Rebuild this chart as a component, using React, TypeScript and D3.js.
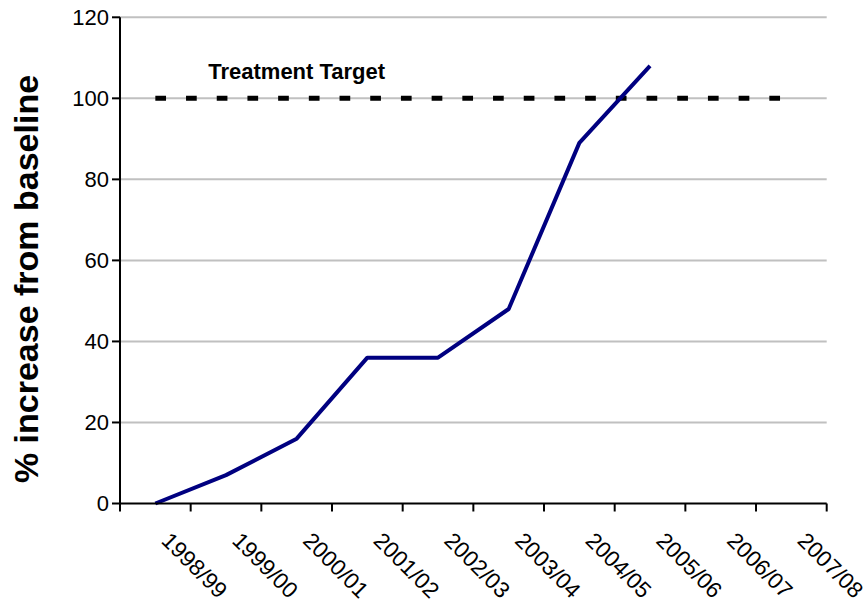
import React from "react";
import * as d3 from "d3";

const categories = ["1998/99","1999/00","2000/01","2001/02","2002/03","2003/04","2004/05","2005/06","2006/07","2007/08"];
const seriesValues = [0, 7, 16, 36, 36, 48, 89, 108];
const targetValue = 100;
const yTicks = [0, 20, 40, 60, 80, 100, 120];
const yTitle = "% increase from baseline";
const targetLabel = "Treatment Target";

const W = 868, H = 607;
const left = 120, right = 826.7, top = 17.3, bottom = 503.5;

export default function App() {
  const x = d3.scaleBand<string>().domain(categories).range([left, right]).padding(0);
  const y = d3.scaleLinear().domain([0, 120]).range([bottom, top]);
  const cx = (c: string) => (x(c) as number) + x.bandwidth() / 2;
  const line = d3.line<number>().x((_, i) => cx(categories[i])).y(d => y(d));
  const font = "'Liberation Sans', Arial, sans-serif";
  const bounds = [...categories.map(c => x(c) as number), right];
  return (
    <svg width={W} height={H} style={{ position: "absolute", left: 0, top: 0, background: "#fff" }} fontFamily={font}>
      {yTicks.filter(t => t > 0).map(t => (
        <line key={"g" + t} x1={left} x2={right} y1={y(t)} y2={y(t)} stroke="#c0c0c0" strokeWidth={2} />
      ))}
      <line x1={cx(categories[0])} x2={cx(categories[categories.length - 1])} y1={y(targetValue)} y2={y(targetValue)}
        stroke="#000" strokeWidth={5} strokeDasharray="10.7 20" />
      <text x={cx(categories[2])} y={79} textAnchor="middle" fontWeight="bold" fontSize={22}>{targetLabel}</text>
      <path d={line(seriesValues) || ""} fill="none" stroke="#000080" strokeWidth={4} strokeLinejoin="round" />
      <line x1={left} x2={left} y1={top} y2={bottom} stroke="#000" strokeWidth={2} />
      <line x1={left} x2={right} y1={bottom} y2={bottom} stroke="#000" strokeWidth={2} />
      {yTicks.map(t => (
        <g key={"y" + t}>
          <line x1={left - 8} x2={left} y1={y(t)} y2={y(t)} stroke="#000" strokeWidth={2} />
          <text x={109} y={y(t)} dy="0.36em" textAnchor="end" fontSize={22}>{t}</text>
        </g>
      ))}
      {bounds.map((b, i) => (
        <line key={"xt" + i} x1={b} x2={b} y1={bottom} y2={bottom + 8} stroke="#000" strokeWidth={2} />
      ))}
      {categories.map(c => (
        <text key={c} transform={`translate(${cx(c) + 5},${542}) rotate(45)`} textAnchor="start" fontSize={22.5}>{c}</text>
      ))}
      <text transform={`translate(26,279) rotate(-90)`} textAnchor="middle" dy="0.36em" fontWeight="bold" fontSize={34}>{yTitle}</text>
    </svg>
  );
}
